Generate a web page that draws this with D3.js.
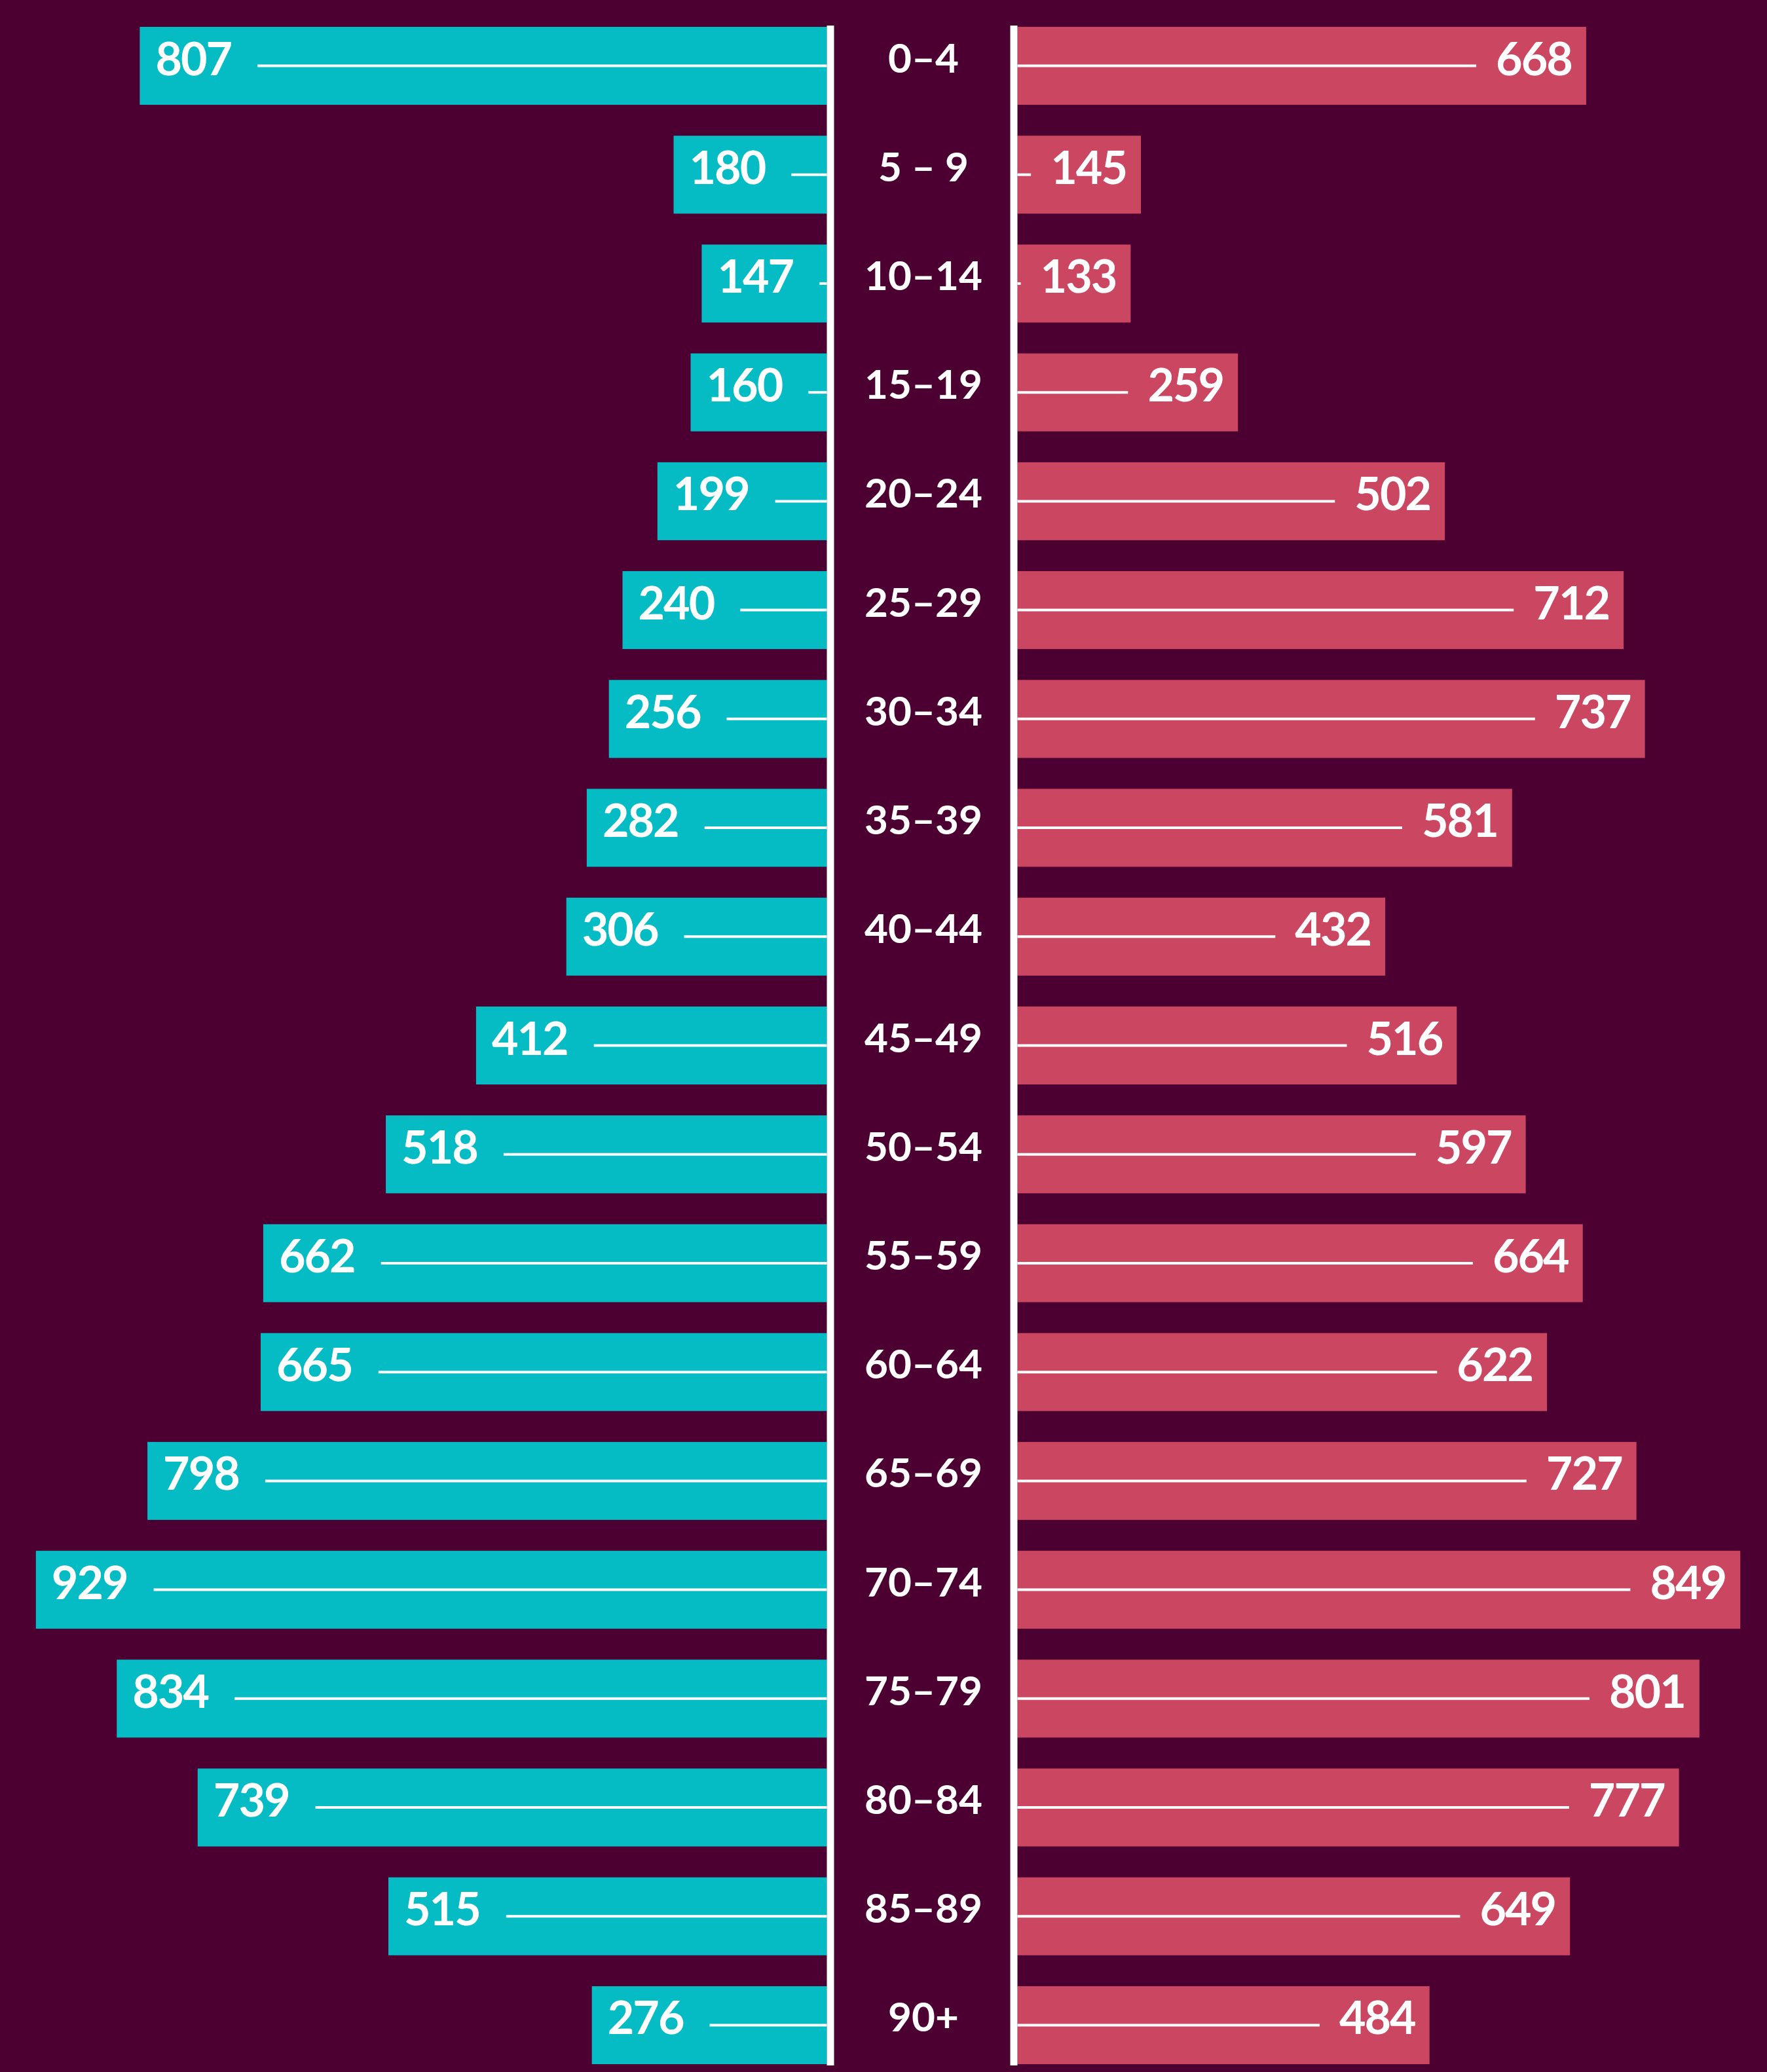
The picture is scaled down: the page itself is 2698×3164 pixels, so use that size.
<!DOCTYPE html>
<html lang="en">
<head>
<meta charset="UTF-8">
<title>Population pyramid</title>
<script src="https://cdn.jsdelivr.net/npm/d3@7"></script>
<style>
  body { margin: 0; background: #4c0031; }
  svg { display: block; }
  .val { font-family: Lato, "Open Sans", sans-serif; font-weight: 700; font-size: 70px; fill: #fff; letter-spacing: -2px; }
  .age { font-family: Lato, "Open Sans", sans-serif; font-weight: 700; font-size: 62px; fill: #fff; }
</style>
</head>
<body>
<svg id="chart" width="2698" height="3164"></svg>
<script>
// age groups, top to bottom
var ages = ["0–4", "5 – 9", "10–14", "15–19", "20–24", "25–29", "30–34", "35–39", "40–44",
            "45–49", "50–54", "55–59", "60–64", "65–69", "70–74", "75–79", "80–84", "85–89", "90+"];
// left side (teal)
var leftValues = [807, 180, 147, 160, 199, 240, 256, 282, 306, 412, 518, 662, 665, 798, 929, 834, 739, 515, 276];
// right side (pink)
var rightValues = [668, 145, 133, 259, 502, 712, 737, 581, 432, 516, 597, 664, 622, 727, 849, 801, 777, 649, 484];

var svg = d3.select("#chart"),
    width = +svg.attr("width"),
    height = +svg.attr("height");

var teal = "#05bcc5", pink = "#cb4661";

svg.append("rect").attr("width", width).attr("height", height).attr("fill", "#4c0031");

var leftAxis = 1268, rightAxis = 1548, axisW = 11;
var leftEdge = leftAxis - axisW / 2, rightEdge = rightAxis + axisW / 2;

var y = d3.scaleBand()
    .domain(ages)
    .range([41, 3152])
    .paddingInner(0.284)
    .paddingOuter(0);

// px per person
var len = d3.scaleLinear().domain([0, 1000]).range([0, 1300]);

var left = ages.map(function(a, i) { return {age: a, v: leftValues[i]}; });
var right = ages.map(function(a, i) { return {age: a, v: rightValues[i]}; });

// left bars
var lg = svg.append("g").selectAll("g").data(left).enter().append("g");
lg.append("rect")
    .attr("x", function(d) { return leftEdge - len(d.v); })
    .attr("y", function(d) { return y(d.age); })
    .attr("width", function(d) { return len(d.v); })
    .attr("height", y.bandwidth())
    .attr("fill", teal);
lg.append("text")
    .attr("class", "val")
    .attr("x", function(d) { return leftEdge - len(d.v) + 24; })
    .attr("y", function(d) { return y(d.age) + y.bandwidth() / 2 + 14; })
    .text(function(d) { return d.v; });
lg.each(function(d) {
  var g = d3.select(this);
  var tw = g.select("text").node().getComputedTextLength();
  var x0 = leftEdge - len(d.v) + 24 + tw + 40;
  g.append("line")
      .attr("x1", x0).attr("x2", leftEdge)
      .attr("y1", y(d.age) + y.bandwidth() / 2)
      .attr("y2", y(d.age) + y.bandwidth() / 2)
      .attr("stroke", "#fff").attr("stroke-width", 4);
});

// right bars
var rg = svg.append("g").selectAll("g").data(right).enter().append("g");
rg.append("rect")
    .attr("x", rightEdge)
    .attr("y", function(d) { return y(d.age); })
    .attr("width", function(d) { return len(d.v); })
    .attr("height", y.bandwidth())
    .attr("fill", pink);
rg.append("text")
    .attr("class", "val")
    .attr("text-anchor", "end")
    .attr("x", function(d) { return rightEdge + len(d.v) - 22; })
    .attr("y", function(d) { return y(d.age) + y.bandwidth() / 2 + 14; })
    .text(function(d) { return d.v; });
rg.each(function(d) {
  var g = d3.select(this);
  var tw = g.select("text").node().getComputedTextLength();
  var x1 = rightEdge + len(d.v) - 22 - tw - 30;
  g.append("line")
      .attr("x1", rightEdge).attr("x2", x1)
      .attr("y1", y(d.age) + y.bandwidth() / 2)
      .attr("y2", y(d.age) + y.bandwidth() / 2)
      .attr("stroke", "#fff").attr("stroke-width", 4);
});

// age labels
svg.append("g").selectAll("text").data(ages).enter().append("text")
    .attr("class", "age")
    .attr("text-anchor", "middle")
    .attr("x", (leftAxis + rightAxis) / 2 + 2)
    .attr("y", function(d) { return y(d) + y.bandwidth() / 2 + 10; })
    .text(function(d) { return d; });

// the two vertical axes
[leftAxis, rightAxis].forEach(function(x) {
  svg.append("line")
      .attr("x1", x).attr("x2", x)
      .attr("y1", 39).attr("y2", 3154)
      .attr("stroke", "#fff").attr("stroke-width", axisW);
});
</script>
</body>
</html>
